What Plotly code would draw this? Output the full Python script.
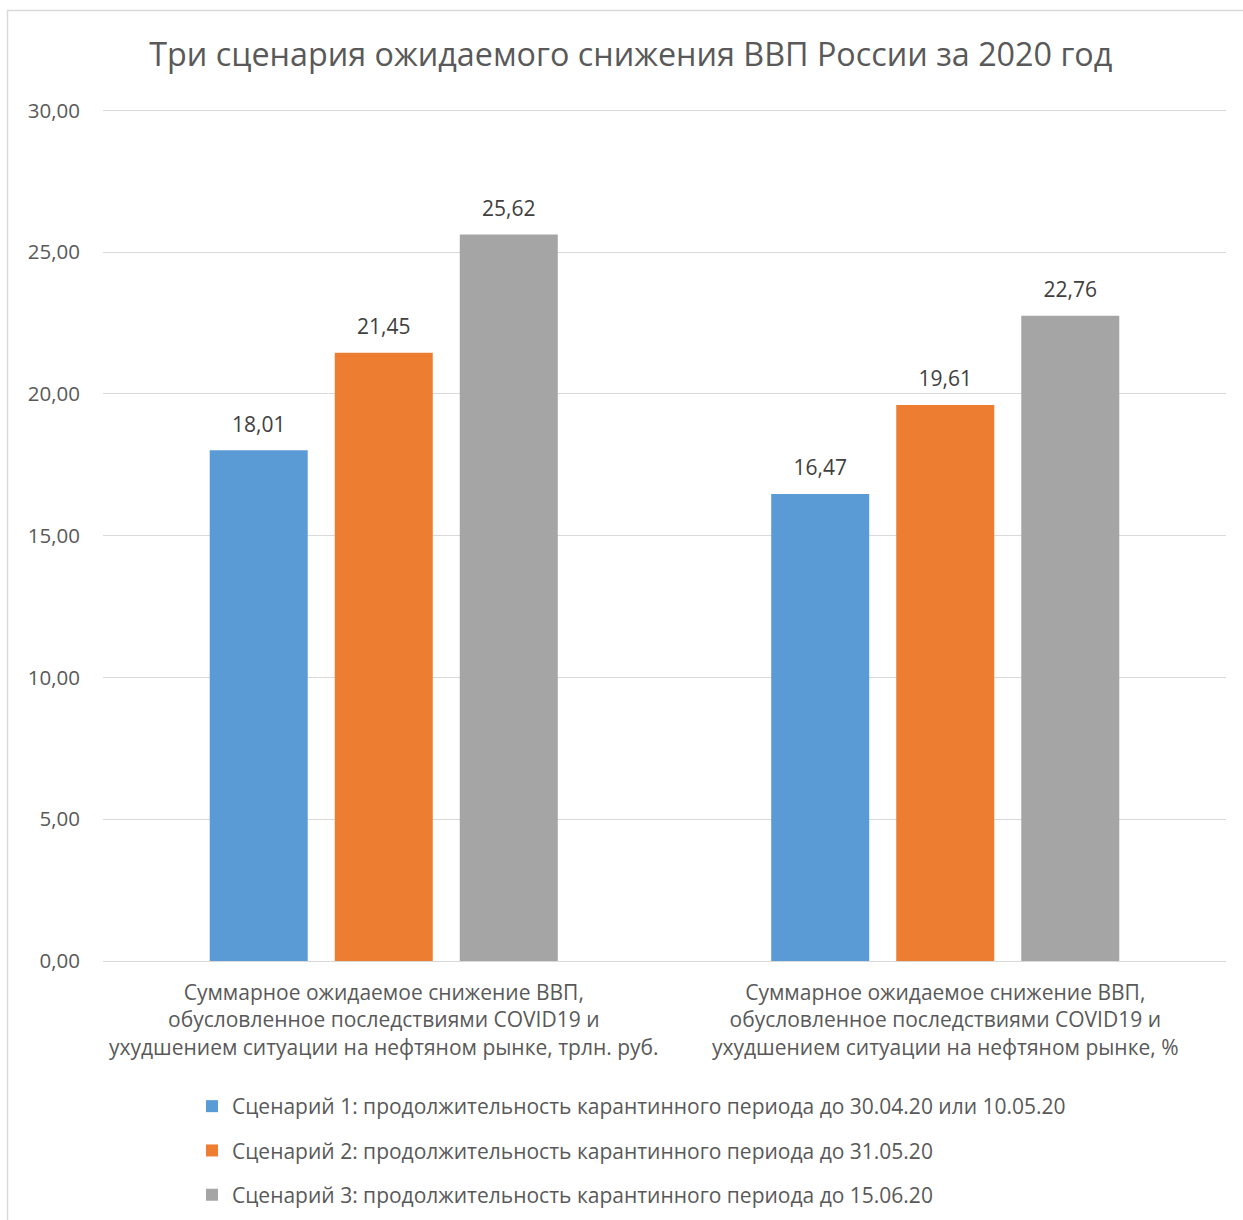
import plotly.graph_objects as go

categories = [
    "Суммарное ожидаемое снижение ВВП,<br>обусловленное последствиями COVID19 и<br>ухудшением ситуации на нефтяном рынке, трлн. руб.",
    "Суммарное ожидаемое снижение ВВП,<br>обусловленное последствиями COVID19 и<br>ухудшением ситуации на нефтяном рынке, %",
]
series_names = [
    "Сценарий 1: продолжительность карантинного периода до 30.04.20 или 10.05.20",
    "Сценарий 2: продолжительность карантинного периода до 31.05.20",
    "Сценарий 3: продолжительность карантинного периода до 15.06.20",
]
scenario1 = [18.01, 16.47]
scenario2 = [21.45, 19.61]
scenario3 = [25.62, 22.76]
colors = ["#5B9BD5", "#ED7D31", "#A5A5A5"]
tick_vals = [0, 5, 10, 15, 20, 25, 30]

FONT = "Open Sans"

fig = go.Figure()
all_series = [scenario1, scenario2, scenario3]
for i, (name, vals) in enumerate(zip(series_names, all_series)):
    fig.add_trace(go.Bar(
        x=categories, y=vals, name=name,
        marker=dict(color=colors[i], line=dict(width=0)),
        offsetgroup=str(i),
        legendgroup=f"g{i}",
    ))
# data labels (grouped scatter aligned to the bars)
for i, vals in enumerate(all_series):
    fig.add_trace(go.Scatter(
        x=categories, y=vals, mode="markers+text",
        marker=dict(size=20, opacity=0),
        text=[f"{v:.2f}".replace(".", ",") for v in vals],
        textposition="top center",
        textfont=dict(family=FONT, size=21, color="#404040"),
        offsetgroup=str(i), showlegend=False, hoverinfo="skip",
        cliponaxis=False,
    ))

W, H = 1243, 1220
ml, mr, mt, mb = 103, 17, 109, 259
pw = W - ml - mr
ph = H - mt - mb

fig.update_layout(
    width=W, height=H,
    margin=dict(l=ml, r=mr, t=mt, b=mb, autoexpand=False),
    paper_bgcolor="white", plot_bgcolor="white",
    separators=", ",
    barmode="group", bargap=0.332, bargroupgap=0.216,
    scattermode="group", scattergap=0.332,
    title=dict(text="Три сценария ожидаемого снижения ВВП России за 2020 год",
               font=dict(family=FONT, size=32.3, color="#595959"),
               x=0.5075, xanchor="center", y=1 - 55 / H, yanchor="middle"),
    font=dict(family=FONT, color="#595959"),
    showlegend=True,
    legend=dict(orientation="v", x=(192 - ml) / pw, xanchor="left",
                y=-(1086 - (H - mb)) / ph, yanchor="top",
                font=dict(family=FONT, size=21, color="#595959"),
                tracegroupgap=14, itemwidth=30, bgcolor="rgba(0,0,0,0)",
                traceorder="grouped"),
    xaxis=dict(showgrid=False, showline=False, ticks="", ticklabelstandoff=17,
               tickfont=dict(family=FONT, size=21, color="#595959")),
    yaxis=dict(range=[0, 30.05], tickvals=tick_vals, tickformat=".2f",
               showgrid=True, gridcolor="#D9D9D9", gridwidth=1.3,
               zeroline=True, zerolinecolor="#D9D9D9", zerolinewidth=1.3,
               showline=False, ticks="", ticklabelstandoff=22,
               tickfont=dict(family=FONT, size=20.5, color="#595959")),
    shapes=[dict(type="rect", xref="paper", yref="paper",
                 x0=(7.5 - ml) / pw, x1=(W + 20 - ml) / pw,
                 y0=-(H + 20 - (H - mb)) / ph, y1=(H - mb - 10.5) / ph,
                 line=dict(color="#D9D9D9", width=1.5), fillcolor="rgba(0,0,0,0)",
                 layer="below")],
)

fig.write_html("out.html", config={"displayModeBar": False},
               post_script="document.body.style.margin='0';")
